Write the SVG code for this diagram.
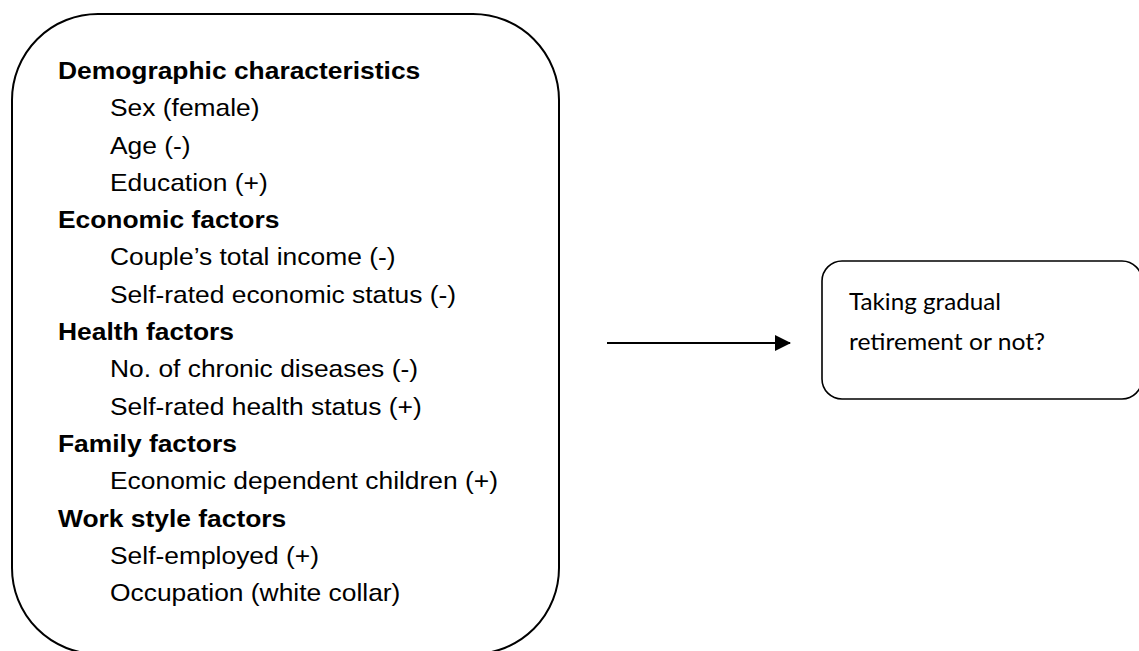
<svg xmlns="http://www.w3.org/2000/svg" width="1139" height="651" viewBox="0 0 1139 651">
  <style>
    .box { fill: #ffffff; stroke: #000000; stroke-width: 2; }
    .hdr { font-family: "Liberation Sans", Arial, sans-serif; font-size: 24px; font-weight: bold; fill: #000000; }
    .item { font-family: "Liberation Sans", Arial, sans-serif; font-size: 24px; fill: #000000; }
    .out { font-family: Lato, "Open Sans", sans-serif; font-size: 23px; fill: #000000; }
    .conn { stroke: #000000; stroke-width: 2; fill: none; }
  </style>
  <defs>
    <marker id="arrow" viewBox="0 0 16 16" refX="15" refY="8" markerWidth="16" markerHeight="16" markerUnits="userSpaceOnUse" orient="auto">
      <path d="M0,0 L16,8 L0,16 Z" fill="#000000"/>
    </marker>
  </defs>
  <rect width="1139" height="651" fill="#ffffff"/>

  <g id="factors">
    <rect class="box" x="12" y="14" width="547" height="640" rx="86" ry="86"/>
    <g transform="translate(110,0) scale(1.1,1)">
      <text class="hdr" x="-47.3" y="79">Demographic characteristics</text>
      <text class="item" x="0" y="116.3">Sex (female)</text>
      <text class="item" x="0" y="153.6">Age (-)</text>
      <text class="item" x="0" y="190.9">Education (+)</text>
      <text class="hdr" x="-47.3" y="228.2">Economic factors</text>
      <text class="item" x="0" y="265.5">Couple’s total income (-)</text>
      <text class="item" x="0" y="302.8">Self-rated economic status (-)</text>
      <text class="hdr" x="-47.3" y="340.1">Health factors</text>
      <text class="item" x="0" y="377.4">No. of chronic diseases (-)</text>
      <text class="item" x="0" y="414.7">Self-rated health status (+)</text>
      <text class="hdr" x="-47.3" y="452">Family factors</text>
      <text class="item" x="0" y="489.3">Economic dependent children (+)</text>
      <text class="hdr" x="-47.3" y="526.6">Work style factors</text>
      <text class="item" x="0" y="563.9">Self-employed (+)</text>
      <text class="item" x="0" y="601.2">Occupation (white collar)</text>
    </g>
  </g>

  <g id="outcome">
    <rect class="box" x="822" y="261" width="320" height="138" rx="20" ry="20" style="stroke-width:1.6"/>
    <text class="out" x="849" y="310" textLength="152" lengthAdjust="spacingAndGlyphs">Taking gradual</text>
    <text class="out" x="849" y="350" textLength="196" lengthAdjust="spacingAndGlyphs">retirement or not?</text>
  </g>

  <g id="connectors">
    <line class="conn" x1="607" y1="343" x2="790" y2="343" marker-end="url(#arrow)"/>
  </g>
</svg>
